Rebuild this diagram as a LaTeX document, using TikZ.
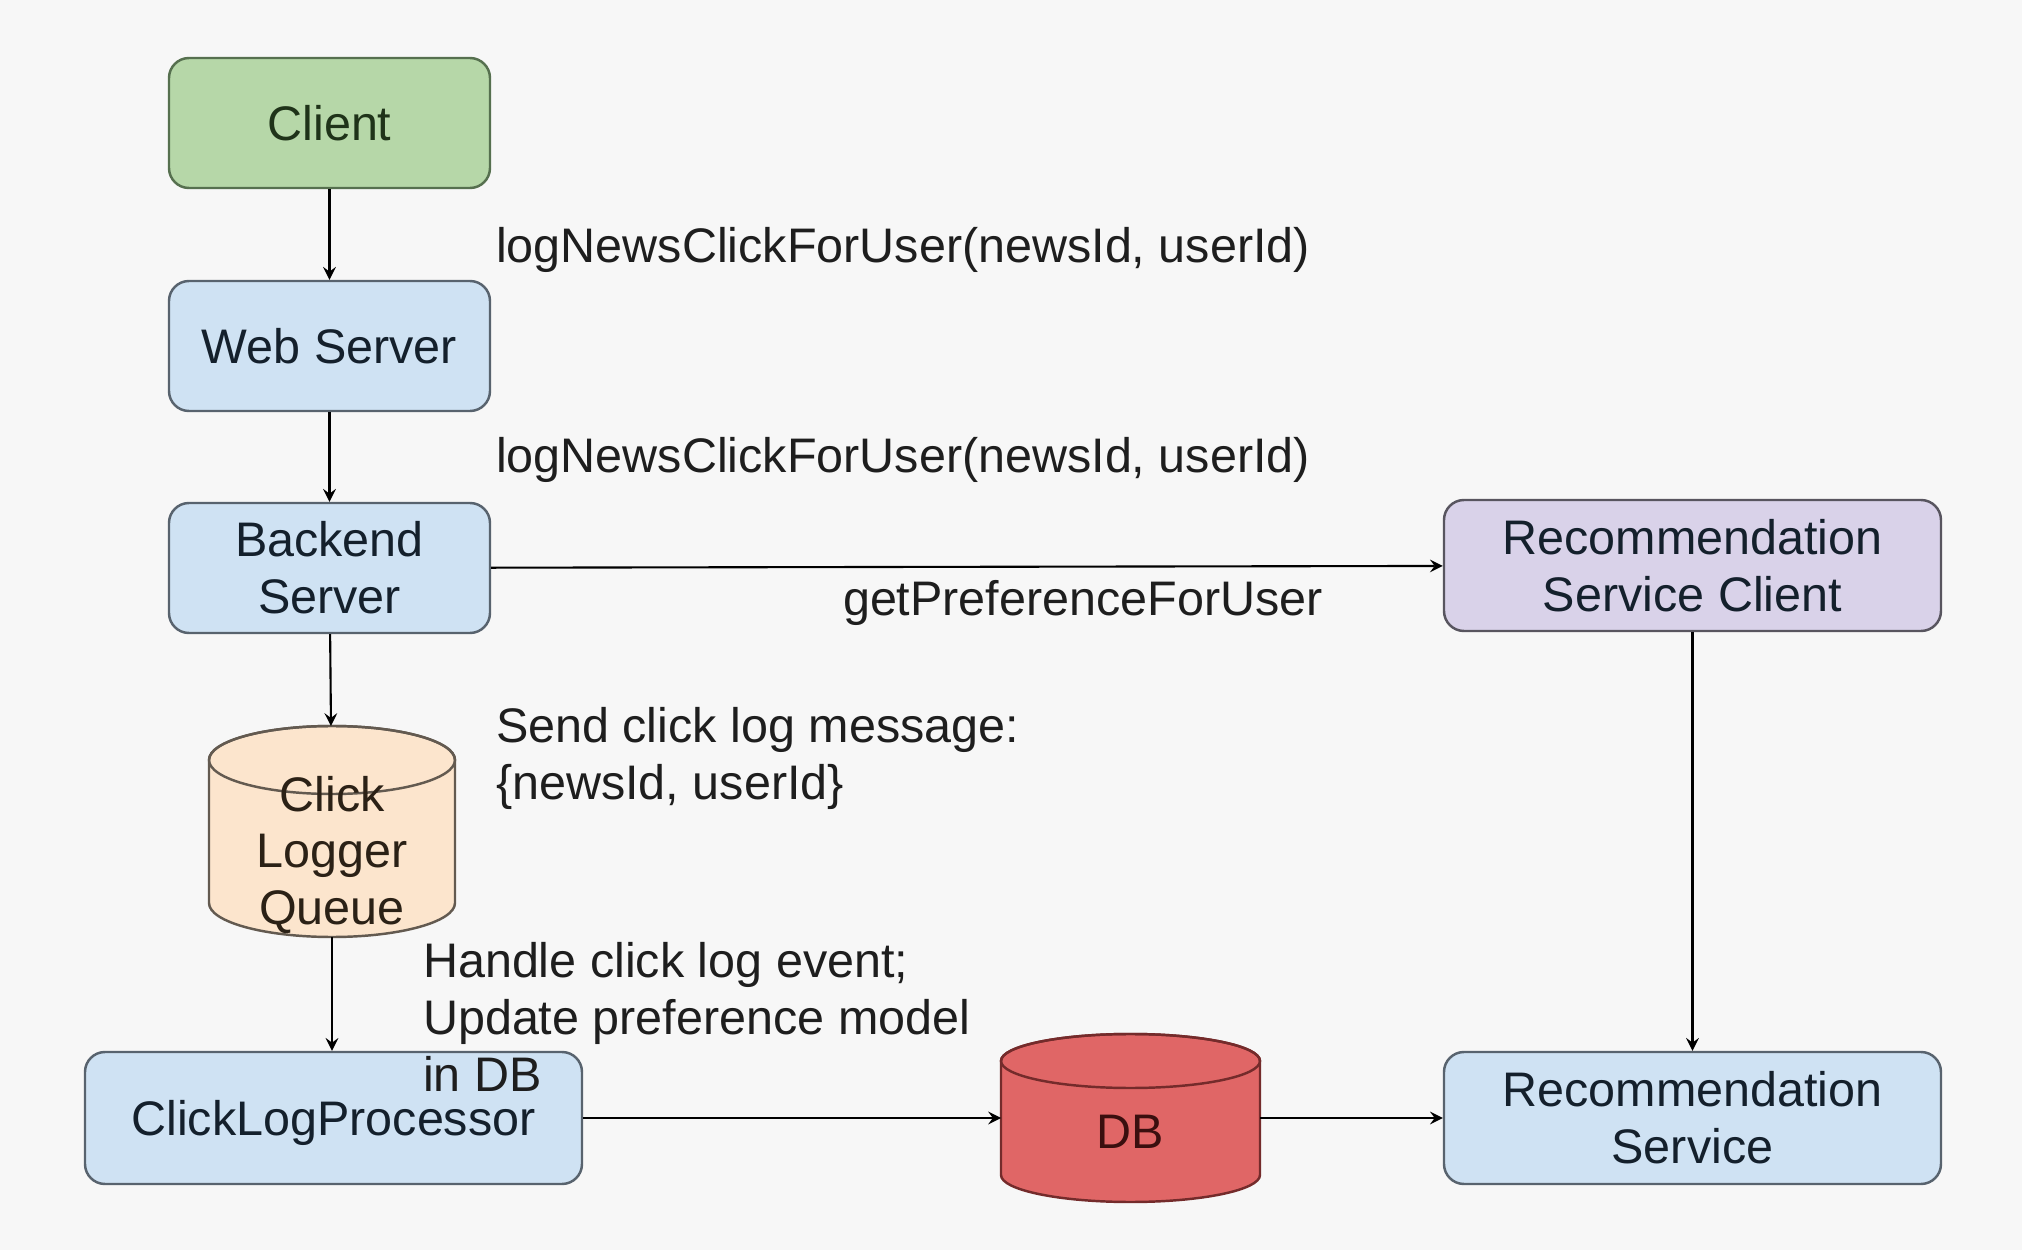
\documentclass[tikz,border=0pt]{standalone}
\usepackage{fontspec}
\setmainfont{Liberation Sans}
\usetikzlibrary{calc}

\definecolor{paper}{HTML}{F7F7F7}
\definecolor{clientfill}{HTML}{B6D7A8}
\definecolor{clientline}{HTML}{56704F}
\definecolor{clientink}{HTML}{1F3319}
\definecolor{serverfill}{HTML}{CFE2F3}
\definecolor{serverline}{HTML}{58636E}
\definecolor{serverink}{HTML}{14202C}
\definecolor{rscfill}{HTML}{D9D2E9}
\definecolor{rscline}{HTML}{58555F}
\definecolor{queuefill}{HTML}{FCE5CD}
\definecolor{queueline}{HTML}{635A50}
\definecolor{queueink}{HTML}{2B2116}
\definecolor{dbfill}{HTML}{E06666}
\definecolor{dbline}{HTML}{742B2B}
\definecolor{dbink}{HTML}{3A0F0F}
\definecolor{ink}{HTML}{1E1E1E}

\begin{document}
\begin{tikzpicture}[>=stealth,line width=0.6pt,
  txt/.style={font=\fontsize{13.8}{16.2}\selectfont},
  server/.style={txt,draw=serverline,fill=serverfill,text=serverink,rounded corners=0.2cm,
    line width=0.7pt,minimum width=3.21cm,minimum height=1.30cm,align=center,inner sep=0pt},
  drum/.style={inner sep=0pt,outer sep=0pt},
  note/.style={txt,text=ink,align=left,inner sep=0pt}]
\useasboundingbox (0,0) rectangle (20.22,-12.50);
\fill[paper] (0,0) rectangle (20.22,-12.50);

% boxes
\node[server,fill=clientfill,draw=clientline,text=clientink] (client) at (3.295,-1.23) {Client};
\node[server] (web) at (3.295,-3.46) {Web Server};
\node[server] (backend) at (3.295,-5.68) {Backend\\Server};
\node[server,minimum width=4.97cm,minimum height=1.32cm,text height=0.45cm] (clp) at (3.335,-11.18) {ClickLogProcessor};
\node[server,fill=rscfill,draw=rscline,minimum width=4.97cm,minimum height=1.31cm] (rsc) at (16.925,-5.655) {Recommendation\\Service Client};
\node[server,minimum width=4.97cm,minimum height=1.32cm] (rs) at (16.925,-11.18) {Recommendation\\Service};

% cylinders
\node[drum,minimum width=2.46cm,minimum height=2.11cm] (queue) at (3.32,-8.315) {};
\filldraw[fill=queuefill,draw=queueline,line width=0.7pt]
  ($(queue.north west)+(0,-0.34)$) -- ($(queue.south west)+(0,0.34)$)
  arc[start angle=180,end angle=360,x radius=1.23,y radius=0.34]
  -- ($(queue.north east)+(0,-0.34)$)
  arc[start angle=0,end angle=180,x radius=1.23,y radius=0.34] -- cycle;
\draw[queueline,line width=0.7pt] ($(queue.north)+(0,-0.34)$) ellipse[x radius=1.23,y radius=0.34];
\node[txt,text=queueink,align=center] (queuelabel) at (3.32,-8.55) {Click\\Logger\\Queue};

\node[drum,minimum width=2.59cm,minimum height=1.68cm] (db) at (11.305,-11.18) {};
\filldraw[fill=dbfill,draw=dbline,line width=0.7pt]
  ($(db.north west)+(0,-0.27)$) -- ($(db.south west)+(0,0.27)$)
  arc[start angle=180,end angle=360,x radius=1.295,y radius=0.27]
  -- ($(db.north east)+(0,-0.27)$)
  arc[start angle=0,end angle=180,x radius=1.295,y radius=0.27] -- cycle;
\draw[dbline,line width=0.7pt] ($(db.north)+(0,-0.27)$) ellipse[x radius=1.295,y radius=0.27];
\node[txt,text=dbink] (dblabel) at (11.30,-11.32) {DB};

% arrows
\draw[->] (client) -- (web);
\draw[->] (web) -- (backend);
\draw[->] (backend) -- (queue);
\draw[->] (queue) -- (queue |- clp.north);
\draw[->] (backend) -- (rsc);
\draw[->] (rsc) -- (rs);
\draw[->] (clp) -- (db);
\draw[->] (db) -- (rs);

% labels
\node[note,right] (log1) at (4.95,-2.50) {logNewsClickForUser(newsId, userId)};
\node[note,right] (log2) at (4.95,-4.60) {logNewsClickForUser(newsId, userId)};
\node[note,right] (pref) at (8.42,-6.03) {getPreferenceForUser};
\node[note,right] (send) at (4.95,-7.58) {Send click log message:\\\{newsId, userId\}};
\node[note,right] (handle) at (4.22,-10.17) {Handle click log event;\\Update preference model\\in DB};
\end{tikzpicture}
\end{document}
